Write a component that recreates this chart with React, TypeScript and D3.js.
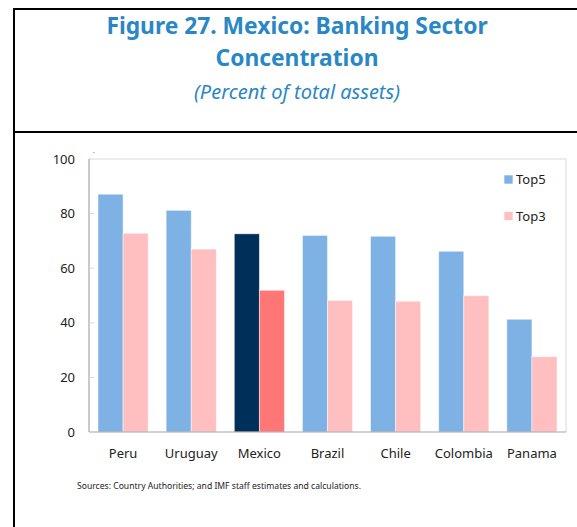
import React from "react";
import * as d3 from "d3";

const categories = ["Peru", "Uruguay", "Mexico", "Brazil", "Chile", "Colombia", "Panama"];
const seriesNames = ["Top5", "Top3"];
const top5 = [87.1, 81.2, 72.6, 72.0, 71.7, 66.2, 41.3];
const top3 = [72.8, 67.0, 51.9, 48.2, 47.9, 49.9, 27.6];
const yTicks = [0, 20, 40, 60, 80, 100];

const W = 577;
const H = 527;
const plot = { left: 89, right: 566, top: 159, bottom: 432 };

const colors: Record<string, string> = { Top5: "#7EB2E4", Top3: "#FFBFC1" };
const highlight: Record<string, string> = { Top5: "#00305A", Top3: "#FF7676" };
const highlightCat = "Mexico";

export default function App() {
  const x = d3
    .scaleBand<string>()
    .domain(categories)
    .range([plot.left, plot.right])
    .paddingInner(0.264)
    .paddingOuter(0.132);
  const xs = d3.scaleBand<string>().domain(seriesNames).range([0, x.bandwidth()]);
  const y = d3.scaleLinear().domain([0, 100]).range([plot.bottom, plot.top]);
  const values: Record<string, number[]> = { Top5: top5, Top3: top3 };
  const font = "'Segoe UI', 'Noto Sans', 'Open Sans', sans-serif";

  return (
    <div style={{ position: "absolute", left: 0, top: 0 }}>
      <svg width={W} height={H} style={{ display: "block", background: "#fff" }}>
        {/* frame */}
        <line x1={13} x2={W} y1={9} y2={9} stroke="#000" strokeWidth={2} />
        <line x1={14} x2={14} y1={8} y2={H} stroke="#000" strokeWidth={2} />
        <line x1={13} x2={W} y1={132} y2={132} stroke="#000" strokeWidth={2} />

        {/* titles */}
        <text x={297} y={34} textAnchor="middle" fontFamily={font} fontWeight="bold" fontSize={22.8} fill="#2A87C6">
          Figure 27. Mexico: Banking Sector
        </text>
        <text x={297} y={66} textAnchor="middle" fontFamily={font} fontWeight="bold" fontSize={22.8} fill="#2A87C6">
          Concentration
        </text>
        <text x={297} y={99} textAnchor="middle" fontFamily={font} fontStyle="italic" fontSize={20} fill="#2A87C6">
          (Percent of total assets)
        </text>

        {/* plot area border */}
        <line x1={plot.left} x2={plot.right} y1={plot.top} y2={plot.top} stroke="#D9D9D9" strokeWidth={1} />
        <line x1={plot.right} x2={plot.right} y1={plot.top} y2={plot.bottom} stroke="#D9D9D9" strokeWidth={1} />

        {/* tiny mark */}
        <rect x={93.5} y={152} width={1} height={1} fill="#2A9FD8" />

        {/* bars */}
        {categories.map((c, i) => (
          <g key={c}>
            {seriesNames.map((s) => {
              const v = values[s][i];
              const fill = c === highlightCat ? highlight[s] : colors[s];
              return (
                <rect
                  key={s}
                  x={(x(c) as number) + (xs(s) as number)}
                  y={y(v)}
                  width={xs.bandwidth()}
                  height={y(0) - y(v)}
                  fill={fill}
                  stroke="#fff"
                  strokeOpacity={0.6}
                  strokeWidth={0.8}
                />
              );
            })}
          </g>
        ))}

        {/* y axis */}
        <line x1={plot.left} x2={plot.left} y1={plot.top} y2={plot.bottom} stroke="#A6A6A6" strokeWidth={1.2} />
        <line x1={plot.left} x2={plot.right} y1={plot.bottom} y2={plot.bottom} stroke="#A6A6A6" strokeWidth={1.2} />
        {yTicks.map((t) => (
          <g key={t}>
            {t > 0 && t < 100 && (
              <line x1={plot.left} x2={plot.left + 5} y1={y(t)} y2={y(t)} stroke="#D9D9D9" strokeWidth={1} />
            )}
            <text x={75} y={y(t)} dy="0.35em" textAnchor="end" fontFamily={font} fontSize={13} fill="#222">
              {t}
            </text>
          </g>
        ))}

        {/* x labels */}
        {categories.map((c) => (
          <text
            key={c}
            x={(x(c) as number) + x.bandwidth() / 2}
            y={458}
            textAnchor="middle"
            fontFamily={font}
            fontSize={13}
            fill="#222"
          >
            {c}
          </text>
        ))}

        {/* legend */}
        {seriesNames.map((s, i) => (
          <g key={s} transform={`translate(504,${175 + i * 36.5})`}>
            <rect x={0} y={0} width={9} height={9} fill={colors[s]} stroke="#fff" strokeWidth={0.6} />
            <text x={12} y={4.5} dy="0.35em" fontFamily={font} fontSize={13} fill="#222">
              {s}
            </text>
          </g>
        ))}

        {/* source */}
        <text x={77} y={489} fontFamily={font} fontSize={8.6} fill="#222">
          Sources: Country Authorities; and IMF staff estimates and calculations.
        </text>
      </svg>
    </div>
  );
}
